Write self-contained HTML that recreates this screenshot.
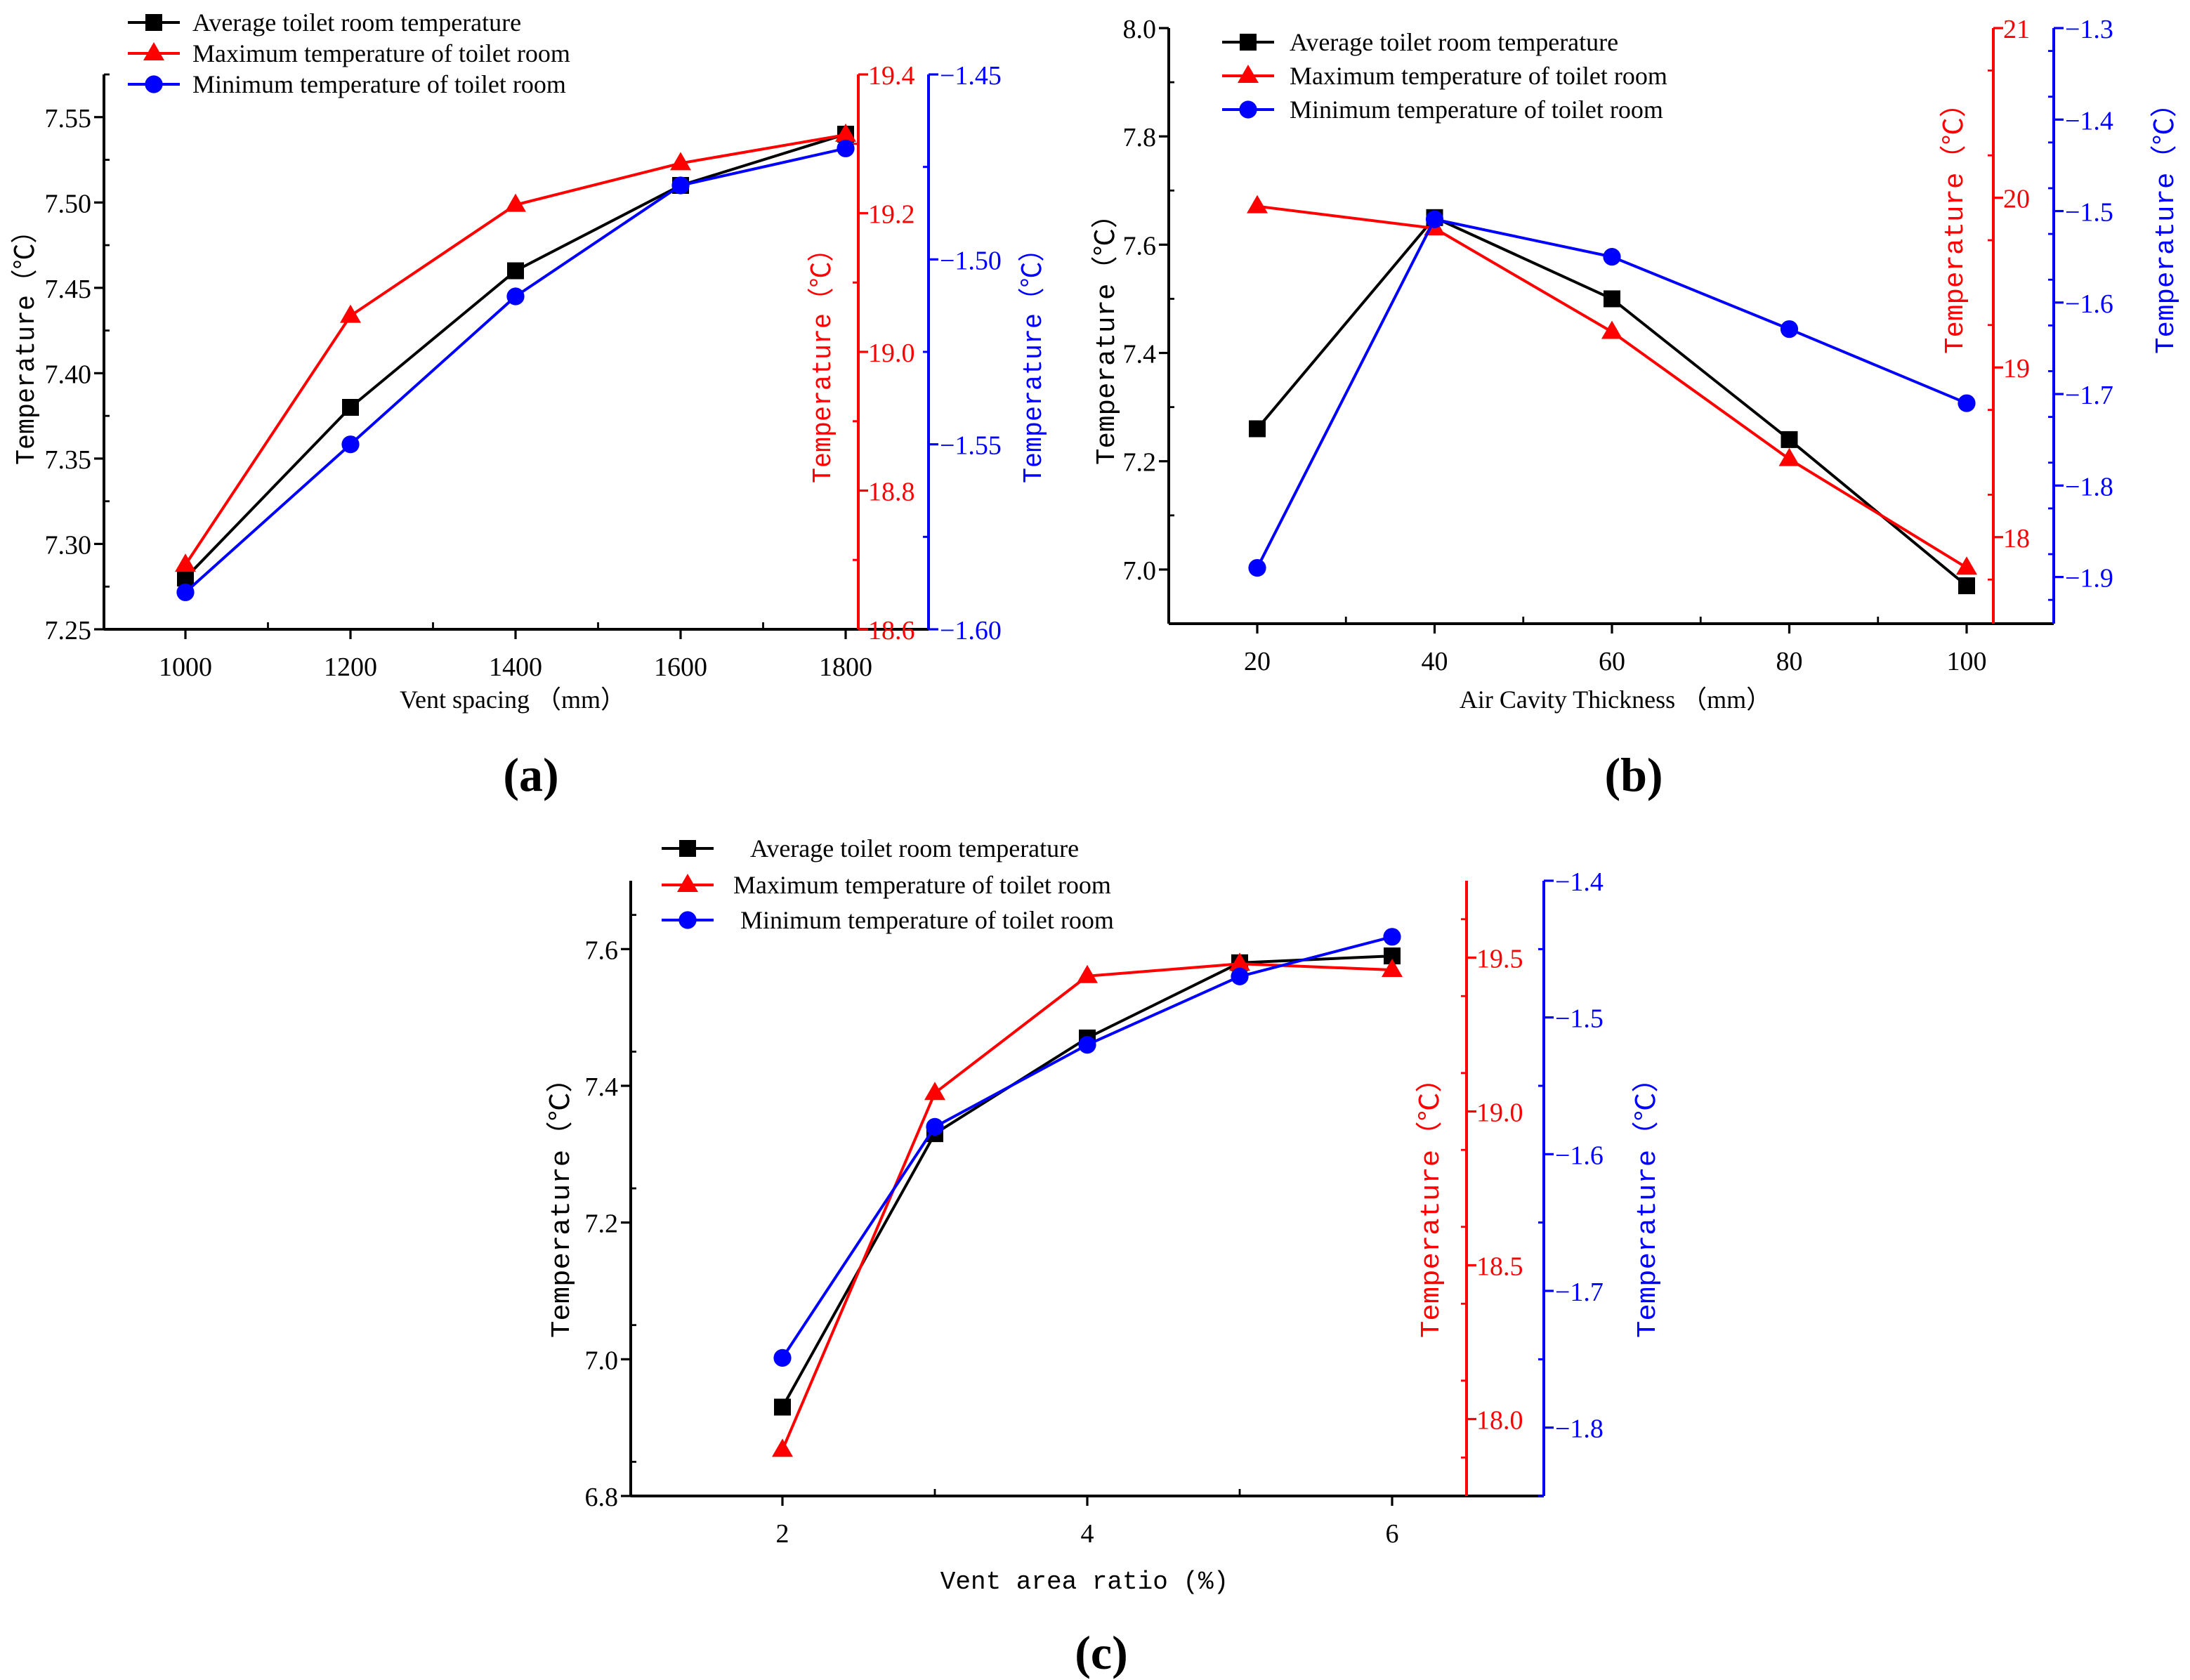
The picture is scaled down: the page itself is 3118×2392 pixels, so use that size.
<!DOCTYPE html>
<html><head><meta charset="utf-8"><style>
html,body{margin:0;padding:0;background:#fff;}
svg{display:block;}
</style></head><body>
<svg id="fig" xmlns="http://www.w3.org/2000/svg" width="3118" height="2392" viewBox="0 0 1559 1196">
<rect x="0" y="0" width="1559" height="1196" fill="#fff"/>
</svg>
<script>
// Panel (a) data
const aCategories = [1000, 1200, 1400, 1600, 1800];
const aAvg = [7.28, 7.38, 7.46, 7.51, 7.54];
const aMax = [18.693, 19.052, 19.212, 19.272, 19.313];
const aMin = [-1.590, -1.550, -1.510, -1.480, -1.470];
const aLeftTicks = [7.25, 7.30, 7.35, 7.40, 7.45, 7.50, 7.55];
const aRedTicks = [18.6, 18.8, 19.0, 19.2, 19.4];
const aBlueTicks = [-1.60, -1.55, -1.50, -1.45];
const aXTicks = [1000, 1200, 1400, 1600, 1800];
// Panel (b) data
const bCategories = [20, 40, 60, 80, 100];
const bAvg = [7.26, 7.65, 7.50, 7.24, 6.97];
const bMax = [19.95, 19.82, 19.21, 18.46, 17.82];
const bMin = [-1.890, -1.509, -1.550, -1.629, -1.710];
const bLeftTicks = [7.0, 7.2, 7.4, 7.6, 7.8, 8.0];
const bRedTicks = [18, 19, 20, 21];
const bBlueTicks = [-1.9, -1.8, -1.7, -1.6, -1.5, -1.4, -1.3];
const bXTicks = [20, 40, 60, 80, 100];
// Panel (c) data
const cCategories = [2, 3, 4, 5, 6];
const cAvg = [6.93, 7.33, 7.47, 7.58, 7.59];
const cMax = [17.90, 19.06, 19.44, 19.48, 19.46];
const cMin = [-1.749, -1.580, -1.520, -1.470, -1.441];
const cLeftTicks = [6.8, 7.0, 7.2, 7.4, 7.6];
const cRedTicks = [18.0, 18.5, 19.0, 19.5];
const cBlueTicks = [-1.8, -1.7, -1.6, -1.5, -1.4];
const cXTicks = [2, 4, 6];

const NS = "http://www.w3.org/2000/svg";
const svg = document.getElementById('fig');
function mk(tag, attrs, parent, txt){
  const e = document.createElementNS(NS, tag);
  for (const k in attrs) e.setAttribute(k, attrs[k]);
  if (txt !== undefined) e.textContent = txt;
  (parent || svg).appendChild(e);
  return e;
}
const SERIF = 'Liberation Serif, serif';
const MONO = 'Liberation Mono, Noto Sans CJK SC, monospace';
function fmt(v, d){ return (v < 0 ? '\u2212' : '') + Math.abs(v).toFixed(d); }

function panel(p){
  const g = mk('g', {});
  
  
  const sx = v => p.x0 + (v - p.xmin) / (p.xmax - p.xmin) * (p.x1 - p.x0);
  const syL = v => p.bot + (v - p.lmin) / (p.lmax - p.lmin) * (p.top - p.bot);
  const syR = v => p.bot + (v - p.rmin) / (p.rmax - p.rmin) * (p.top - p.bot);
  const syB = v => p.bot + (v - p.bmin) / (p.bmax - p.bmin) * (p.top - p.bot);

  let l = mk('line', {x1:p.left, y1:p.top, x2:p.left, y2:p.bot, stroke:'#000', 'stroke-width':2}, g);
   
  l = mk('line', {x1:p.left, y1:p.bot, x2:p.blueX, y2:p.bot, stroke:'#000', 'stroke-width':2}, g);
   
  l = mk('line', {x1:p.redX, y1:p.top, x2:p.redX, y2:p.bot, stroke:'#f00', 'stroke-width':2}, g);
   
  l = mk('line', {x1:p.blueX, y1:p.top, x2:p.blueX, y2:p.bot, stroke:'#00f', 'stroke-width':2}, g);
   

  p.lt.forEach((v, i) => {
    const y = syL(v);
    mk('line', {x1:p.left-7, y1:y, x2:p.left, y2:y, stroke:'#000', 'stroke-width':1.6}, g);
    const t = mk('text', {x:p.left-9, y:y+7, 'text-anchor':'end', 'font-family':SERIF, 'font-size':19, fill:'#000'}, g, v.toFixed(p.ld));
     
    if (i < p.lt.length - 1 || p.lminorTop) {
      const ym = syL(v + p.lstep/2);
      if (ym >= p.top - 0.5) mk('line', {x1:p.left, y1:ym, x2:p.left+4, y2:ym, stroke:'#000', 'stroke-width':1.4}, g);
    }
  });
  p.rt.forEach(v => {
    const y = syR(v);
    mk('line', {x1:p.redX, y1:y, x2:p.redX+7, y2:y, stroke:'#f00', 'stroke-width':1.6}, g);
    const t = mk('text', {x:p.redX+7, y:y+7, 'font-family':SERIF, 'font-size':19, fill:'#f00'}, g, v.toFixed(p.rd));
     
    [v - p.rstep/2, v + p.rstep/2].forEach(m => {
      const ym = syR(m);
      if (ym >= p.top - 0.5 && ym <= p.bot + 0.5) mk('line', {x1:p.redX-4, y1:ym, x2:p.redX, y2:ym, stroke:'#f00', 'stroke-width':1.4}, g);
    });
  });
  p.bt.forEach(v => {
    const y = syB(v);
    mk('line', {x1:p.blueX, y1:y, x2:p.blueX+7, y2:y, stroke:'#00f', 'stroke-width':1.6}, g);
    const t = mk('text', {x:p.blueX+8, y:y+7, 'font-family':SERIF, 'font-size':19, fill:'#00f'}, g, fmt(v, p.bd));
     
    [v - p.bstep/2, v + p.bstep/2].forEach(m => {
      const ym = syB(m);
      if (ym >= p.top - 0.5 && ym <= p.bot + 0.5) mk('line', {x1:p.blueX-4, y1:ym, x2:p.blueX, y2:ym, stroke:'#00f', 'stroke-width':1.4}, g);
    });
  });
  p.xt.forEach(v => {
    const x = sx(v);
    mk('line', {x1:x, y1:p.bot, x2:x, y2:p.bot+7, stroke:'#000', 'stroke-width':1.6}, g);
    const t = mk('text', {x:x, y:p.bot+33, 'text-anchor':'middle', 'font-family':SERIF, 'font-size':19, fill:'#000'}, g, String(v));
     
  });
  p.xminor.forEach(v => {
    const x = sx(v);
    mk('line', {x1:x, y1:p.bot-5, x2:x, y2:p.bot, stroke:'#000', 'stroke-width':1.4}, g);
  });

  function vtitle(x, y, color, len, name){
    const t = mk('text', {x:0, y:0, transform:`translate(${x},${y}) rotate(-90)`, 'text-anchor':'middle', 'font-family':MONO, 'font-size':19, fill:color, textLength:len, lengthAdjust:'spacingAndGlyphs'}, g, 'Temperature\uFF08\u2103\uFF09');
     
  }
  vtitle(p.ltx, p.lty, '#000', p.tlen, 'left-y-axis-title');
  vtitle(p.rtx, p.rty, '#f00', p.tlen, 'red-y-axis-title');
  vtitle(p.btx, p.bty, '#00f', p.tlen, 'blue-y-axis-title');
  const xt = mk('text', {x:p.xtx, y:p.xty, 'text-anchor':'middle', 'font-family':p.xfont, 'font-size':18, fill:'#000'}, g, p.xtitle);
   

  const series = [
    {vals:p.avg, sy:syL, color:'#000', m:'square', name:'average'},
    {vals:p.max, sy:syR, color:'#f00', m:'triangle', name:'maximum'},
    {vals:p.min, sy:syB, color:'#00f', m:'circle', name:'minimum'}
  ];
  function marker(parent, m, x, y, color){
    if (m === 'square') return mk('rect', {x:x-6, y:y-6, width:12, height:12, fill:color}, parent);
    if (m === 'triangle') return mk('polygon', {points:`${x},${y-8} ${x-7.5},${y+5} ${x+7.5},${y+5}`, fill:color}, parent);
    return mk('circle', {cx:x, cy:y, r:6.3, fill:color}, parent);
  }
  series.forEach(s => {
    const sg = mk('g', {}, g);
     
    const pts = s.vals.map((v, i) => sx(p.cats[i]) + ',' + s.sy(v)).join(' ');
    const pl = mk('polyline', {points:pts, fill:'none', stroke:s.color, 'stroke-width':2}, sg);
     
    s.vals.forEach((v, i) => {
      const mm = marker(sg, s.m, sx(p.cats[i]), s.sy(v), s.color);
       
    });
  });

  const lg = mk('g', {}, g);
   
  const labels = ['Average toilet room temperature', 'Maximum temperature of toilet room', 'Minimum temperature of toilet room'];
  series.forEach((s, i) => {
    const y = p.legY[i];
    const e = mk('g', {}, lg);
     
    mk('line', {x1:p.legX, y1:y, x2:p.legX+37, y2:y, stroke:s.color, 'stroke-width':2}, e);
    marker(e, s.m, p.legX+18.5, y, s.color);
    mk('text', {x:p.legTX[i], y:y+6, 'font-family':SERIF, 'font-size':18, fill:'#000'}, e, labels[i]);
  });

  const pl = mk('text', {x:p.plx, y:p.ply, 'text-anchor':'middle', 'font-family':SERIF, 'font-size':34, 'font-weight':'bold', fill:'#000'}, g, p.label);
   
}

panel({name:'panel-a', label:'(a)', plx:378, ply:563,
  left:74, top:53, bot:448, redX:611, blueX:661,
  x0:132, x1:602, xmin:1000, xmax:1800, cats:aCategories, xt:aXTicks, xminor:[1100,1300,1500,1700],
  lmin:7.25, lmax:7.575, lt:aLeftTicks, ld:2, lstep:0.05, lminorTop:true,
  rmin:18.6, rmax:19.4, rt:aRedTicks, rd:1, rstep:0.2,
  bmin:-1.60, bmax:-1.45, bt:aBlueTicks, bd:2, bstep:0.05,
  avg:aAvg, max:aMax, min:aMin,
  ltx:24, lty:243, rtx:591, rty:256, btx:741, bty:256, tlen:176,
  xtx:365, xty:504, xtitle:'Vent spacing \uFF08mm\uFF09', xfont:SERIF,
  legX:91, legY:[16,38,60], legTX:[137,137,137]});

panel({name:'panel-b', label:'(b)', plx:1163, ply:563,
  left:832, top:20, bot:444, redX:1419, blueX:1462,
  x0:895, x1:1400, xmin:20, xmax:100, cats:bCategories, xt:bXTicks, xminor:[30,50,70,90],
  lmin:6.9, lmax:8.0, lt:bLeftTicks, ld:1, lstep:0.2, lminorTop:false,
  rmin:17.49, rmax:21, rt:bRedTicks, rd:0, rstep:0.5,
  bmin:-1.951, bmax:-1.3, bt:bBlueTicks, bd:1, bstep:0.05,
  avg:bAvg, max:bMax, min:bMin,
  ltx:793, lty:237, rtx:1397, rty:158, btx:1547, bty:158, tlen:188,
  xtx:1150, xty:504, xtitle:'Air Cavity Thickness \uFF08mm\uFF09', xfont:SERIF,
  legX:870, legY:[30,54,78], legTX:[918,918,918]});

panel({name:'panel-c', label:'(c)', plx:784, ply:1188,
  left:449, top:627, bot:1065, redX:1044, blueX:1099,
  x0:557, x1:991, xmin:2, xmax:6, cats:cCategories, xt:cXTicks, xminor:[3,5],
  lmin:6.8, lmax:7.7, lt:cLeftTicks, ld:1, lstep:0.1, lminorTop:true,
  rmin:17.75, rmax:19.75, rt:cRedTicks, rd:1, rstep:0.25,
  bmin:-1.85, bmax:-1.4, bt:cBlueTicks, bd:1, bstep:0.1,
  avg:cAvg, max:cMax, min:cMin,
  ltx:405, lty:855, rtx:1024, rty:855, btx:1178, bty:855, tlen:195,
  xtx:772, xty:1131, xtitle:'Vent area ratio (%)', xfont:MONO,
  legX:471, legY:[604,630,655], legTX:[534,522,527]});
</script>
</body></html>
